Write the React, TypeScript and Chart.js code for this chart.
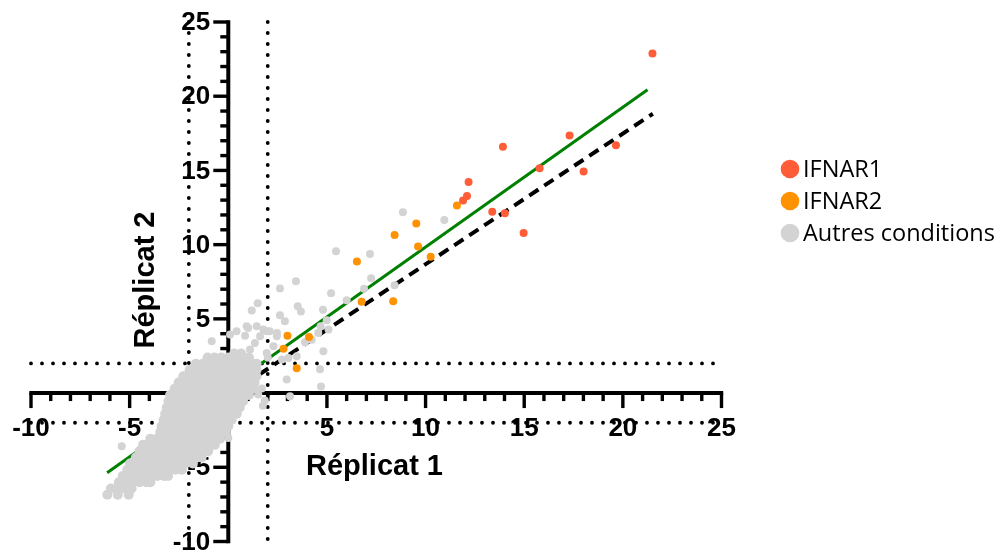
import { useEffect, useRef } from 'react';
import { Chart, registerables } from 'chart.js';

Chart.register(...registerables);

// ---- Data ----
const xMin = -10;
const xMax = 25;
const yMin = -10;
const yMax = 25;

const xTickValues = [-10, -5, 5, 10, 15, 20, 25];
const xTickLabels = ['-10', '-5', '5', '10', '15', '20', '25'];
const yTickValues = [-10, -5, 5, 10, 15, 20, 25];
const yTickLabels = ['-10', '-5', '5', '10', '15', '20', '25'];
const majorStep = 5;

const thresholdX = [-2, 2];
const thresholdY = [-2, 2];

const xTitle = 'Réplicat 1';
const yTitle = 'Réplicat 2';

const seriesLabels = ['IFNAR1', 'IFNAR2', 'Autres conditions'];
const seriesColors = ['#FF5C38', '#FF9200', '#D3D3D3'];

const ifnar1X = [21.5, 17.3, 19.65, 13.92, 15.78, 18.01, 12.18, 12.1, 11.9, 13.38, 14.02, 14.97];
const ifnar1Y = [22.88, 17.36, 16.69, 16.6, 15.14, 14.92, 14.22, 13.28, 12.98, 12.22, 12.11, 10.79];

const ifnar2X = [11.59, 9.53, 8.43, 9.62, 10.26, 6.52, 6.76, 8.36, 3.0, 4.09, 2.8, 3.47];
const ifnar2Y = [12.63, 11.43, 10.65, 9.87, 9.19, 8.86, 6.16, 6.18, 3.87, 3.78, 2.98, 1.67];

// dense cloud of "Autres conditions", read row by row: [y, x values]
const autresRows: [number, number[]][] = [
  [-6.85, [-6.13, -5.6, -5.05]],
  [-6.43, [-5.95, -5.6, -5.25, -4.9]],
  [-6.01, [-5.55, -5.2, -4.85, -4.5, -4.15, -3.95]],
  [-5.59, [-5.35, -5.0, -4.65, -4.3, -3.95, -3.6, -3.25, -3.05]],
  [-5.17, [-5.12, -4.78, -4.43, -4.08, -3.73, -3.38, -3.03, -2.68, -2.35]],
  [-4.75, [-4.98, -4.63, -4.28, -3.93, -3.58, -3.23, -2.88, -2.53, -2.18, -1.8]],
  [-4.33, [-4.68, -4.33, -3.98, -3.63, -3.28, -2.93, -2.58, -2.23, -1.88, -1.55, -1.35]],
  [-3.91, [-4.5, -4.15, -3.8, -3.45, -3.1, -2.75, -2.4, -2.05, -1.7, -1.35, -1.02]],
  [-3.49, [-4.32, -3.97, -3.62, -3.27, -2.92, -2.57, -2.22, -1.87, -1.52, -1.17, -0.85, -0.68]],
  [-3.07, [-3.95, -3.6, -3.25, -2.9, -2.55, -2.2, -1.85, -1.5, -1.15, -0.8, -0.42]],
  [-2.65, [-3.45, -3.1, -2.75, -2.4, -2.05, -1.7, -1.35, -1.0, -0.65, -0.3, -0.15]],
  [-2.23, [-3.38, -3.03, -2.68, -2.33, -1.98, -1.63, -1.28, -0.93, -0.58, -0.23, 0.0]],
  [-1.81, [-3.28, -2.93, -2.58, -2.23, -1.88, -1.53, -1.18, -0.83, -0.48, -0.13, 0.17]],
  [-1.39, [-3.2, -2.85, -2.5, -2.15, -1.8, -1.45, -1.1, -0.75, -0.4, -0.05, 0.3, 0.43]],
  [-0.97, [-3.12, -2.77, -2.42, -2.07, -1.72, -1.37, -1.02, -0.67, -0.32, 0.03, 0.38, 0.58]],
  [-0.55, [-3.03, -2.68, -2.33, -1.98, -1.63, -1.28, -0.93, -0.58, -0.23, 0.12, 0.47, 0.75]],
  [-0.13, [-2.95, -2.6, -2.25, -1.9, -1.55, -1.2, -0.85, -0.5, -0.15, 0.2, 0.55, 0.9, 1.05]],
  [0.29, [-2.72, -2.37, -2.02, -1.67, -1.32, -0.97, -0.62, -0.27, 0.08, 0.43, 0.78, 1.13, 1.27]],
  [0.71, [-2.52, -2.17, -1.82, -1.47, -1.12, -0.77, -0.42, -0.07, 0.28, 0.63, 0.98, 1.33]],
  [1.13, [-2.28, -1.93, -1.58, -1.23, -0.88, -0.53, -0.18, 0.17, 0.52, 0.87, 1.22, 1.43]],
  [1.55, [-1.96, -1.61, -1.26, -0.91, -0.56, -0.21, 0.14, 0.49, 0.84, 1.19, 1.43]],
  [1.97, [-1.64, -1.29, -0.94, -0.59, -0.24, 0.11, 0.46, 0.81, 1.16, 1.43]],
  [2.39, [-1.05, -0.7, -0.35, 0.0, 0.35, 0.7, 1.05]],
  [2.66, [0.3, 0.65]],
];

// scattered "Autres conditions" points outside the dense cloud
const autresScattered: [number, number][] = [
  [8.85, 12.18], [10.95, 11.66], [5.46, 9.55], [7.18, 9.37], [7.24, 7.73], [3.43, 7.53],
  [2.62, 7.04], [5.21, 6.72], [6.88, 7.02], [6.0, 6.25], [8.43, 7.26], [1.49, 6.05],
  [1.19, 5.56], [3.52, 5.85], [3.68, 5.49], [2.62, 5.24], [4.8, 5.62], [2.87, 4.84],
  [4.99, 4.9], [4.68, 4.5], [4.56, 4.05], [4.23, 3.6], [2.47, 4.05], [2.1, 4.16],
  [1.78, 4.28], [0.42, 4.16], [1.01, 4.39], [0.85, 3.87], [1.35, 3.38], [1.1, 2.93],
  [4.82, 2.82], [3.47, 2.48], [3.05, 2.37], [3.89, 3.42], [4.65, 1.6], [4.7, 0.45],
  [0.09, 3.94], [3.13, -0.21], [2.96, 0.91], [-0.84, 3.49], [0.93, 4.5], [1.61, 3.82],
  [1.95, 4.16], [2.46, 3.82], [2.29, 3.15], [2.72, 2.26], [2.0, 2.4], [5.08, 4.28],
  [1.44, 4.5], [1.95, 2.7], [0.0, -3.02], [1.85, -0.5], [1.75, -0.85], [1.52, -0.1],
  [-5.4, -3.58], [-5.0, -6.72], [1.7, 0.3],
];

const fitSolidX = [-6.14, 21.25];
const fitSolidY = [-5.37, 20.44];
const fitDashedX = [-3.0, 21.52];
const fitDashedY = [-2.77, 18.82];

// ---- helpers ----
const toPoints = (xs: number[], ys: number[]) => xs.map((x, i) => ({ x, y: ys[i] }));
const cloudPoints = autresRows.flatMap(([y, xs]) => xs.map((x) => ({ x, y })));
const scatteredPoints = autresScattered.map(([x, y]) => ({ x, y }));
const autresPoints = [...cloudPoints, ...scatteredPoints];
const autresRadii = [...cloudPoints.map(() => 5), ...scatteredPoints.map(() => 4)];

const AXIS_FONT = 'bold 26px "Liberation Sans", Arial, sans-serif';
const TITLE_FONT = 'bold 29px "Liberation Sans", Arial, sans-serif';
const LEGEND_FONT = '23.5px "Open Sans", "Liberation Sans", sans-serif';

const axesPlugin = {
  id: 'prismAxes',
  beforeDatasetsDraw(chart: any) {
    const { ctx, scales } = chart;
    const xs = scales.x;
    const ys = scales.y;
    const px = (v: number) => xs.getPixelForValue(v);
    const py = (v: number) => ys.getPixelForValue(v);
    ctx.save();

    // dotted threshold lines
    ctx.strokeStyle = '#000';
    ctx.lineWidth = 3.8;
    ctx.lineCap = 'round';
    ctx.setLineDash([0, 11]);
    for (const v of thresholdX) {
      ctx.beginPath();
      ctx.moveTo(px(v), py(yMax));
      ctx.lineTo(px(v), py(yMin));
      ctx.stroke();
    }
    for (const v of thresholdY) {
      ctx.beginPath();
      ctx.moveTo(px(xMin), py(v));
      ctx.lineTo(px(xMax), py(v));
      ctx.stroke();
    }
    ctx.setLineDash([]);
    ctx.lineCap = 'butt';

    const x0 = px(0);
    const y0 = py(0);

    // axis lines
    ctx.lineWidth = 4;
    ctx.beginPath();
    ctx.moveTo(px(xMin) - 1.7, y0);
    ctx.lineTo(px(xMax) + 1.7, y0);
    ctx.stroke();
    ctx.beginPath();
    ctx.moveTo(x0, py(yMin) + 1.7);
    ctx.lineTo(x0, py(yMax) - 1.7);
    ctx.stroke();

    // ticks
    ctx.lineWidth = 3.4;
    for (let v = xMin; v <= xMax; v++) {
      if (v === 0) continue;
      const len = v % majorStep === 0 ? 15 : 8;
      ctx.beginPath();
      ctx.moveTo(px(v), y0);
      ctx.lineTo(px(v), y0 + len);
      ctx.stroke();
    }
    for (let v = yMin; v <= yMax; v++) {
      if (v === 0) continue;
      const len = v % majorStep === 0 ? 15 : 8;
      ctx.beginPath();
      ctx.moveTo(x0, py(v));
      ctx.lineTo(x0 - len, py(v));
      ctx.stroke();
    }

    // tick labels
    ctx.fillStyle = '#000';
    ctx.font = AXIS_FONT;
    ctx.textAlign = 'center';
    ctx.textBaseline = 'middle';
    xTickValues.forEach((v, i) => ctx.fillText(xTickLabels[i], px(v), y0 + 36));
    ctx.textAlign = 'right';
    yTickValues.forEach((v, i) => ctx.fillText(yTickLabels[i], x0 - 18, py(v) + 1));

    // axis titles
    ctx.font = TITLE_FONT;
    ctx.textAlign = 'left';
    ctx.fillText(xTitle, 306, 467);
    ctx.save();
    ctx.translate(146, 280);
    ctx.rotate(-Math.PI / 2);
    ctx.textAlign = 'center';
    ctx.fillText(yTitle, 0, 0);
    ctx.restore();

    ctx.restore();
  },
  afterDraw(chart: any) {
    const { ctx } = chart;
    ctx.save();
    ctx.font = LEGEND_FONT;
    ctx.textAlign = 'left';
    ctx.textBaseline = 'middle';
    seriesLabels.forEach((label, i) => {
      const cy = 169 + i * 32;
      ctx.fillStyle = seriesColors[i];
      ctx.beginPath();
      ctx.arc(790, cy, 9.3, 0, Math.PI * 2);
      ctx.fill();
      ctx.fillStyle = '#000';
      ctx.fillText(label, 803, cy + 1);
    });
    ctx.restore();
  },
};

export default function App() {
  const ref = useRef<HTMLCanvasElement>(null);
  useEffect(() => {
    if (!ref.current) return;
    const chart = new Chart(ref.current, {
      type: 'scatter',
      data: {
        datasets: [
          {
            type: 'line',
            label: 'fit',
            data: toPoints(fitSolidX, fitSolidY),
            borderColor: '#008000',
            borderWidth: 3,
            pointRadius: 0,
            showLine: true,
            fill: false,
            order: 10,
            clip: false,
          } as any,
          {
            type: 'line',
            label: 'identity',
            data: toPoints(fitDashedX, fitDashedY),
            borderColor: '#000000',
            borderWidth: 4,
            borderDash: [11, 7],
            pointRadius: 0,
            showLine: true,
            fill: false,
            order: 9,
            clip: false,
          } as any,
          {
            label: seriesLabels[2],
            data: autresPoints,
            backgroundColor: seriesColors[2],
            borderWidth: 0,
            pointRadius: autresRadii,
            order: 5,
            clip: false,
          } as any,
          {
            label: seriesLabels[1],
            data: toPoints(ifnar2X, ifnar2Y),
            backgroundColor: seriesColors[1],
            borderWidth: 0,
            pointRadius: 4,
            order: 2,
            clip: false,
          } as any,
          {
            label: seriesLabels[0],
            data: toPoints(ifnar1X, ifnar1Y),
            backgroundColor: seriesColors[0],
            borderWidth: 0,
            pointRadius: 4,
            order: 1,
            clip: false,
          } as any,
        ],
      },
      options: {
        responsive: false,
        animation: false,
        layout: { padding: { left: 31, right: 280.5, top: 22, bottom: 10.5 } },
        scales: {
          x: { type: 'linear', min: xMin, max: xMax, display: false },
          y: { type: 'linear', min: yMin, max: yMax, display: false },
        },
        plugins: {
          legend: { display: false },
          tooltip: { enabled: false },
        },
      },
      plugins: [axesPlugin],
    });
    return () => chart.destroy();
  }, []);

  return (
    <div style={{ position: 'fixed', left: 0, top: 0, width: 1002, height: 552, background: '#fff' }}>
      <canvas ref={ref} width={1002} height={552} style={{ display: 'block' }} />
    </div>
  );
}
